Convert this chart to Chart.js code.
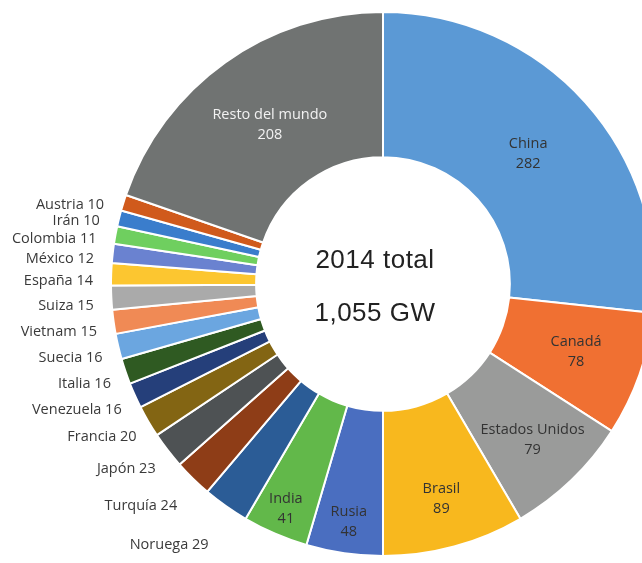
<!DOCTYPE html>
<html>
<head>
<meta charset="utf-8">
<script src="https://cdn.jsdelivr.net/npm/chart.js@4.4.1/dist/chart.umd.min.js"></script>
<style>
    html, body { margin: 0; padding: 0; background: #fff; overflow: hidden; }
    #wrap { position: absolute; left: 0; top: 0; }
</style>
</head>
<body>
<div id="wrap"><canvas id="hydroChart" width="766" height="568"></canvas></div>
<script>
// Capacidad hidroeléctrica instalada 2014 (GW)
const paises = ['China', 'Canadá', 'Estados Unidos', 'Brasil', 'Rusia', 'India', 'Noruega', 'Turquía', 'Japón', 'Francia',
    'Venezuela', 'Italia', 'Suecia', 'Vietnam', 'Suiza', 'España', 'México', 'Colombia', 'Irán', 'Austria', 'Resto del mundo'];
const capacidadGW = [282, 78, 79, 89, 48, 41, 29, 24, 23, 20, 16, 16, 16, 15, 15, 14, 12, 11, 10, 10, 208];
const colores = ['#5b99d5', '#f07032', '#9a9b9a', '#f8b81e', '#4a6ec0', '#62b84a', '#2b5c96', '#8e3d17', '#4e5254', '#836513',
    '#253f7a', '#2f5a22', '#6ba6e0', '#f08a55', '#aaaaaa', '#fcc630', '#6a82d0', '#6fcf5f', '#3a7dcc', '#d05a1c', '#707372'];
const textoCentro = ['2014 total', '1,055 GW'];

document.addEventListener('DOMContentLoaded', function() {
    const ctx = document.getElementById('hydroChart');

    // labels inside the big slices, outside (left) for the small ones
    const labelPlugin = {
        id: 'sliceLabels',
        afterDatasetsDraw(chart) {
            const c = chart.ctx;
            const meta = chart.getDatasetMeta(0);
            c.save();
            c.font = '14.5px "Open Sans"';
            meta.data.forEach((arc, i) => {
                const p = arc.getProps(['x', 'y', 'startAngle', 'endAngle', 'innerRadius', 'outerRadius'], true);
                const mid = (p.startAngle + p.endAngle) / 2;
                const span = (p.endAngle - p.startAngle) * 180 / Math.PI;
                const value = capacidadGW[i];
                if (value >= 40) {
                    // push labels of the lower / narrow slices towards the outer edge
                    const f = 0.47 + 0.2 * Math.max(0, Math.sin(mid)) + Math.max(0, 22 - span) * 0.02;
                    const r = p.innerRadius + (p.outerRadius - p.innerRadius) * f;
                    const x = p.x + r * Math.cos(mid);
                    const y = p.y + r * Math.sin(mid);
                    c.fillStyle = i === paises.length - 1 ? '#f2f2f2' : '#333';
                    c.textAlign = 'center';
                    c.textBaseline = 'middle';
                    c.fillText(paises[i], x, y - 10);
                    c.fillText(String(value), x, y + 10);
                } else {
                    const topDeg = (mid + Math.PI / 2) * 180 / Math.PI;
                    const r = p.outerRadius + 18 + Math.max(0, 235 - topDeg) * 1.2;
                    const a = mid - 1.5 * Math.PI / 180;
                    const x = p.x + r * Math.cos(a);
                    const y = p.y + r * Math.sin(a);
                    c.fillStyle = '#3a3a3a';
                    c.textAlign = 'right';
                    c.textBaseline = 'middle';
                    c.fillText(paises[i] + ' ' + value, x, y);
                }
            });

            // total in the hole
            const cx = meta.data[0].x;
            const cy = meta.data[0].y;
            c.font = '26px "Liberation Sans"';
            c.letterSpacing = '0.5px';
            c.fillStyle = '#222';
            c.textAlign = 'center';
            c.textBaseline = 'middle';
            c.fillText(textoCentro[0], cx - 8, cy - 23);
            c.fillText(textoCentro[1], cx - 8, cy + 30);
            c.restore();
        }
    };

    const myChart = new Chart(ctx, {
        type: 'doughnut',
        data: {
            labels: paises,
            datasets: [{
                data: capacidadGW,
                backgroundColor: colores,
                borderColor: '#ffffff',
                borderWidth: 2
            }]
        },
        options: {
            responsive: false,
            animation: false,
            radius: 272,
            cutout: 132,
            layout: { padding: 0 },
            plugins: {
                legend: { display: false },
                tooltip: { enabled: false }
            }
        },
        plugins: [labelPlugin]
    });
});
</script>
</body>
</html>
